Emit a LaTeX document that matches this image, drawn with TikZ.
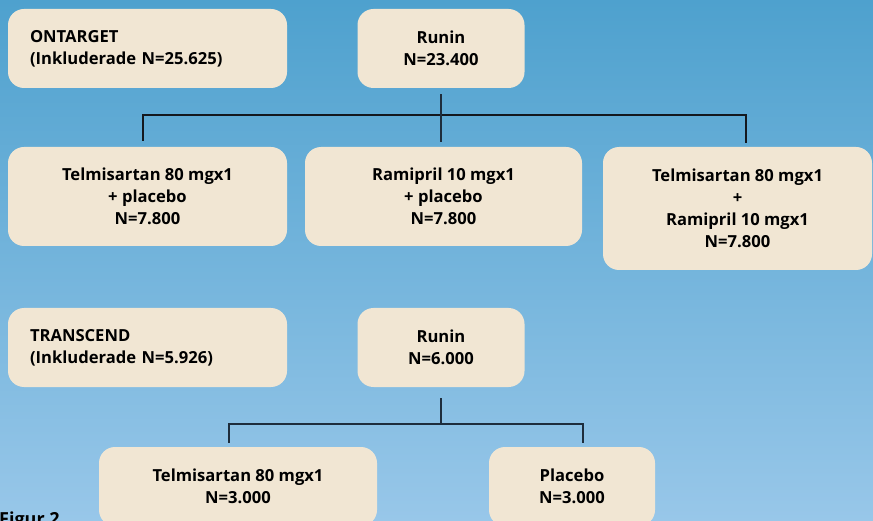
\documentclass[tikz,border=0pt]{standalone}
\usepackage{fontspec}
\setmainfont{Open Sans}
\definecolor{bgtop}{RGB}{78,161,206}
\definecolor{bgbot}{RGB}{152,199,233}
\definecolor{boxfill}{RGB}{241,230,211}
\definecolor{lineA}{RGB}{20,24,30}
\definecolor{lineB}{RGB}{30,45,60}
\tikzset{
  card/.style={fill=boxfill, rounded corners=16pt, inner sep=0pt, align=center,
    font=\bfseries\fontsize{16.6}{22}\selectfont, text=black},
  connA/.style={draw=lineA, line width=1.1pt},
  connB/.style={draw=lineB, line width=1.5pt},
}
\begin{document}
\begin{tikzpicture}[x=1pt,y=-1pt]
\useasboundingbox (0,0) rectangle (873,521);
\clip (0,0) rectangle (873,521);
\shade[top color=bgtop, bottom color=bgbot] (0,0) rectangle (873,521);

% top study
\node[card, minimum width=279pt, minimum height=79pt, align=left, text width=235pt] (ont) at (147.5,48.5) {ONTARGET\\(Inkluderade N=25.625)};
\node[card, minimum width=167pt, minimum height=79pt] (run1) at (441,48.5) {Runin\\N=23.400};
\node[card, minimum width=279pt, minimum height=99pt] (t1) at (147.5,196.5) {Telmisartan 80 mgx1\\+ placebo\\N=7.800};
\node[card, minimum width=277pt, minimum height=99pt] (r1) at (443.5,196.5) {Ramipril 10 mgx1\\+ placebo\\N=7.800};
\node[card, minimum width=269pt, minimum height=123pt] (tr) at (737.5,208.5) {Telmisartan 80 mgx1\\+\\Ramipril 10 mgx1\\N=7.800};

\coordinate (j1) at (441,115);
\draw[connA] ([xshift=-4.5pt,yshift=6pt]t1.north) |- (j1) -| ([xshift=8.5pt,yshift=4pt]tr.north);
\draw[connA, draw=lineB, line width=1.4pt] ([yshift=-6pt]run1.south) -- ([yshift=5pt]run1.south |- r1.north);

% bottom study
\node[card, minimum width=279pt, minimum height=79pt, align=left, text width=235pt] (trans) at (147.5,347.5) {TRANSCEND\\(Inkluderade N=5.926)};
\node[card, minimum width=167pt, minimum height=79pt] (run2) at (441,347.5) {Runin\\N=6.000};
\node[card, minimum width=278pt, minimum height=79pt] (t2) at (238,486.5) {Telmisartan 80 mgx1\\N=3.000};
\node[card, minimum width=166pt, minimum height=79pt] (plac) at (572,486.5) {Placebo\\N=3.000};

\coordinate (j2) at (441,424);
\draw[connB] ([yshift=-11pt]run2.south) -- (j2);
\draw[connB] ([xshift=-9pt,yshift=4pt]t2.north) |- (j2) -| ([xshift=11pt,yshift=4pt]plac.north);

\node[anchor=base west, inner sep=0pt, font=\bfseries\fontsize{18}{22}\selectfont] (fig) at (-1,525) {Figur 2};
\end{tikzpicture}
\end{document}
